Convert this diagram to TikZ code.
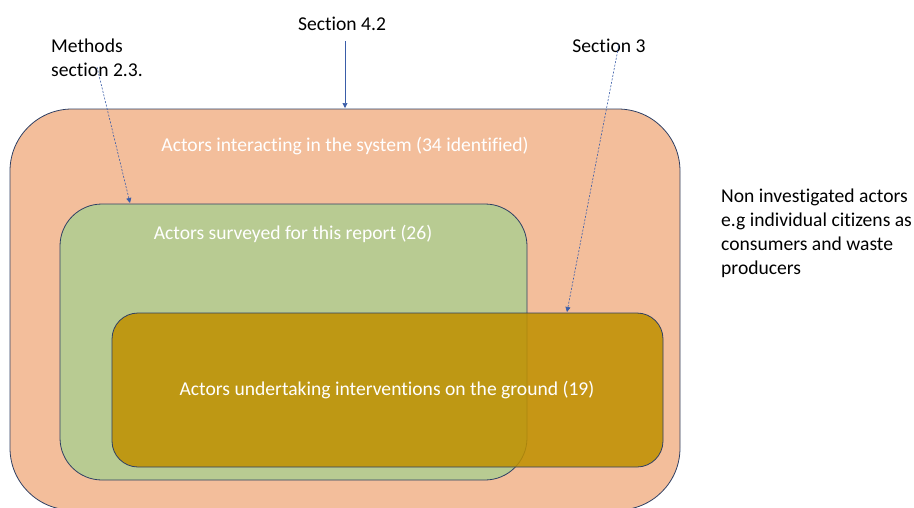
\documentclass[tikz,border=0pt]{standalone}
\usepackage{fontspec}
\setmainfont{Carlito}[Ligatures=NoCommon]
\usetikzlibrary{arrows.meta}
\definecolor{sysfill}{HTML}{F3BE9B}
\definecolor{survfill}{HTML}{B8CB92}
\definecolor{groundfill}{HTML}{BF9000}
\definecolor{edge}{HTML}{2E3F63}
\definecolor{ptrblue}{HTML}{3A5DA8}
\tikzset{
  setbox/.style={draw=edge, line width=0.8pt},
  lbl/.style={inner sep=0pt, font=\fontsize{19.6}{24}\selectfont, text=black},
  inlbl/.style={inner sep=0pt, font=\fontsize{19.6}{24}\selectfont, text=white},
  ptr/.style={draw=ptrblue, line width=0.6pt, -{Triangle[width=5pt,length=5pt]}},
  dptr/.style={ptr, dash pattern=on 2pt off 1.5pt},
}
\begin{document}
\begin{tikzpicture}[x=1pt, y=-1pt]
  \useasboundingbox (0,0) rectangle (914,507);
  \begin{scope}
    \clip (0,0) rectangle (914,507);
    % outer set: all actors in the system
    \path[setbox, fill=sysfill, rounded corners=62pt] (10,109) rectangle (680,510);
    % surveyed actors
    \path[setbox, fill=survfill, rounded corners=42pt] (60,204) rectangle (527,480);
    % actors with interventions on the ground
    \path[setbox, fill=groundfill, fill opacity=0.86, rounded corners=26pt] (112,313) rectangle (663,467);
  \end{scope}

  % texts inside the sets
  \node[inlbl] (tsys) at (345,146) {Actors interacting in the system (34 identified)};
  \node[inlbl] (tsurv) at (293,234) {Actors surveyed for this report (26)};
  \node[inlbl] (tgnd) at (387,390) {Actors undertaking interventions on the ground (19)};

  % outside labels
  \node[lbl] (s42) at (342,24) {Section 4.2};
  \node[lbl, align=left, anchor=west] (meth) at (51,58) {Methods\\section 2.3.};
  \node[lbl] (s3) at (609,46) {Section 3};
  \node[lbl, align=left, anchor=west] (nonin) at (721,233)
    {Non investigated actors\\e.g individual citizens as\\consumers and waste\\producers};

  % arrow targets on the set borders
  \coordinate (a42) at (345,108);
  \coordinate (am) at (130,203);
  \coordinate (a3) at (567,312);

  \draw[ptr] (s42.south -| a42) ++(0,10) -- (a42);
  \draw[dptr] ([xshift=0pt,yshift=10pt]meth.south) -- (am);
  \draw[dptr] ([xshift=10pt,yshift=9pt]s3.south) -- (a3);
\end{tikzpicture}
\end{document}
